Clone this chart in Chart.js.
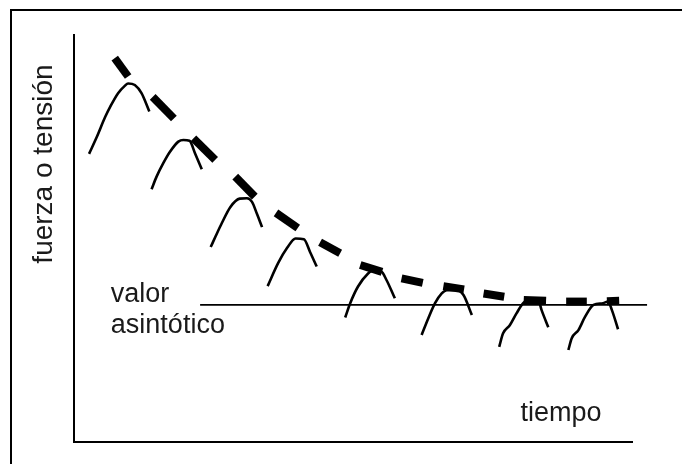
<!DOCTYPE html>
<html>
<head>
<meta charset="utf-8">
<script src="https://cdn.jsdelivr.net/npm/chart.js@4"></script>
<style>
  html, body { margin: 0; padding: 0; background: #fff; overflow: hidden; }
  #wrap { position: relative; width: 682px; height: 464px; overflow: hidden; }
  #frame { position: absolute; left: 10px; top: 9px; width: 800px; height: 600px;
           border-top: 2px solid #000; border-left: 2px solid #000; }
  #fatigue { position: absolute; left: 0; top: 0; }
</style>
</head>
<body>
<div id="wrap">
  <div id="frame"></div>
  <canvas id="fatigue" width="682" height="464"></canvas>
</div>
<script>
// time axis 0..100, force axis 0..100 (arbitrary units)
const arch1 = [[2.7,70.8],[4.1,75.0],[5.6,79.9],[6.5,82.4],[7.9,85.7],[9.1,87.5],[9.7,88.1],[10.9,87.7],[12.1,85.7],[13.5,81.2]];
const arch2 = [[13.9,62.1],[14.8,65.2],[16.0,68.5],[17.2,71.3],[18.7,73.8],[19.6,74.2],[20.7,74.0],[21.7,70.9],[22.9,67.0]];
const arch3 = [[24.5,47.9],[25.4,50.6],[26.5,53.8],[28.0,57.7],[29.7,59.8],[31.0,59.9],[31.9,59.0],[32.8,56.0],[33.7,52.8]];
const arch4 = [[34.7,38.3],[36.6,44.0],[38.2,47.7],[39.7,50.0],[41.2,49.8],[42.3,46.7],[43.5,43.1]];
const arch5 = [[48.6,30.6],[49.5,34.1],[50.9,38.2],[52.7,41.4],[53.4,42.0],[55.1,41.8],[56.0,39.8],[57.5,35.3]];
const arch6 = [[62.3,26.3],[63.5,30.4],[64.7,34.1],[65.9,36.5],[66.8,37.3],[68.6,37.3],[69.8,36.1],[71.3,31.2]];
const arch7 = [[76.2,23.4],[76.9,26.7],[78.1,28.7],[79.3,31.6],[80.5,34.1],[81.7,35.1],[83.2,34.9],[83.8,32.4],[85.0,28.2]];
const arch8 = [[88.6,22.6],[89.2,25.5],[90.4,27.5],[91.6,30.8],[93.1,33.7],[94.8,34.1],[95.7,34.5],[96.4,32.4],[97.5,27.7]];
const arches = [arch1, arch2, arch3, arch4, arch5, arch6, arch7, arch8];

// decaying envelope drawn as thick dashes: start and end of each dash
const dashStart = [[7.3,94.3],[14.1,84.8],[21.4,74.6],[28.9,65.2],[36.2,56.3],[44.1,49.1],[51.3,43.5],[58.7,40.2],[66.2,38.3],[73.4,36.5],[80.6,34.9],[88.2,34.5],[95.5,34.6]];
const dashEnd   = [[9.7,89.8],[17.9,79.5],[25.3,69.3],[32.4,60.3],[40.1,52.6],[47.7,46.4],[55.2,41.8],[62.5,39.1],[69.9,37.5],[77.1,35.7],[84.6,34.7],[91.9,34.5],[97.7,34.7]];

const asymptote = 33.7;
const asymptoteFrom = 22.6;
const asymptoteTo = 102.7;

const yTitle = 'fuerza o tensión';
const xLabel = 'tiempo';
const asymLabel = ['valor', 'asintótico'];

const pts = arr => arr.map(p => ({ x: p[0], y: p[1] }));

const datasets = [];
arches.forEach(a => {
    datasets.push({
        data: pts(a),
        borderColor: '#000',
        borderWidth: 2.6,
        pointRadius: 0,
        cubicInterpolationMode: 'monotone',
        fill: false
    });
});
dashStart.forEach((s, i) => {
    datasets.push({
        data: pts([s, dashEnd[i]]),
        borderColor: '#000',
        borderWidth: 8,
        borderCapStyle: 'butt',
        pointRadius: 0,
        fill: false
    });
});
datasets.push({
    data: [{ x: asymptoteFrom, y: asymptote }, { x: asymptoteTo, y: asymptote }],
    borderColor: '#000',
    borderWidth: 1.6,
    pointRadius: 0,
    clip: false,
    fill: false
});

// text labels drawn on the canvas
const textPlugin = {
    id: 'textLabels',
    afterDraw(chart) {
        const ctx = chart.ctx;
        const xs = chart.scales.x, ys = chart.scales.y;
        ctx.save();
        ctx.fillStyle = '#1a1a1a';
        ctx.font = '27px "Liberation Sans", Arial, sans-serif';
        ctx.textAlign = 'left';
        ctx.textBaseline = 'alphabetic';
        ctx.fillText(asymLabel[0], xs.getPixelForValue(6.6), ys.getPixelForValue(34.3));
        ctx.fillText(asymLabel[1], xs.getPixelForValue(6.6), ys.getPixelForValue(26.7));
        ctx.fillText(xLabel, xs.getPixelForValue(80.0), ys.getPixelForValue(5.2));
        // rotated y title
        ctx.font = '28px "Liberation Sans", Arial, sans-serif';
        ctx.translate(xs.getPixelForValue(-4.0), ys.getPixelForValue(68.3));
        ctx.rotate(-Math.PI / 2);
        ctx.textAlign = 'center';
        ctx.fillText(yTitle, 0, 0);
        ctx.restore();
    }
};

new Chart(document.getElementById('fatigue').getContext('2d'), {
    type: 'line',
    data: { datasets },
    options: {
        responsive: false,
        animation: false,
        layout: { padding: { left: 74, right: 50, top: 35, bottom: 22 } },
        scales: {
            x: {
                type: 'linear', min: 0, max: 100,
                grid: { display: false, drawTicks: false },
                ticks: { display: false },
                border: { display: true, color: '#000', width: 2 }
            },
            y: {
                type: 'linear', min: 0, max: 100,
                grid: { display: false, drawTicks: false },
                ticks: { display: false },
                border: { display: true, color: '#000', width: 2 }
            }
        },
        plugins: {
            legend: { display: false },
            tooltip: { enabled: false },
            title: { display: false }
        }
    },
    plugins: [textPlugin]
});
</script>
</body>
</html>
